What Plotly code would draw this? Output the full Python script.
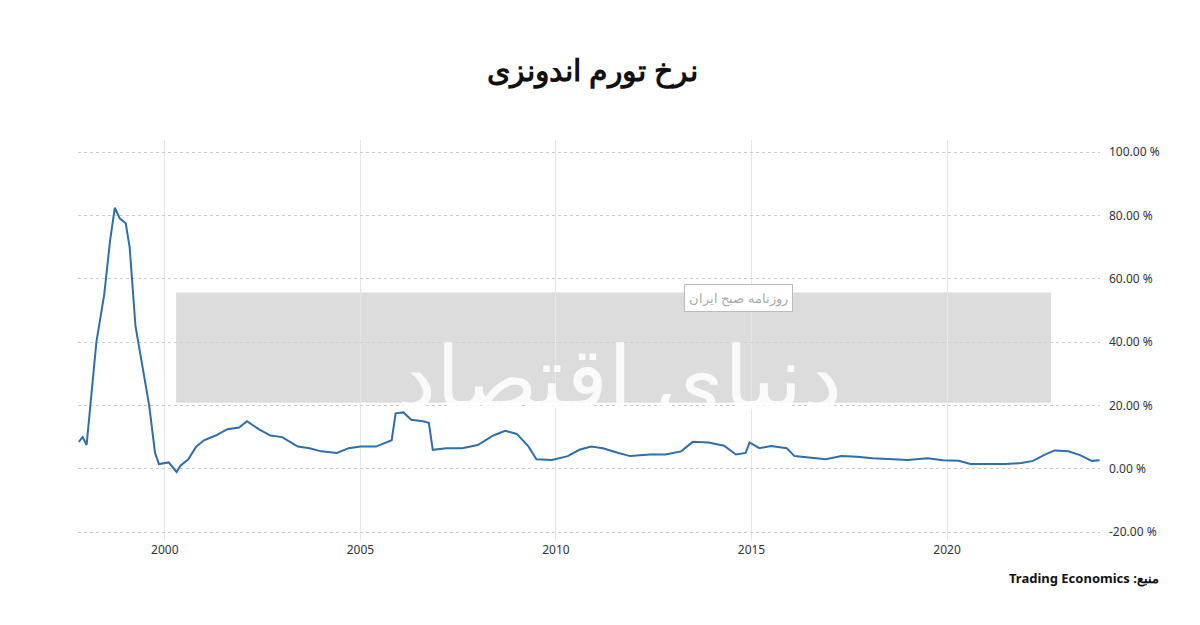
import plotly.graph_objects as go

years = [1997.8, 1997.9, 1998.0, 1998.1, 1998.25, 1998.45, 1998.6, 1998.72, 1998.85, 1999.0,
         1999.1, 1999.25, 1999.45, 1999.6, 1999.75, 1999.85, 2000.1, 2000.3, 2000.4, 2000.6,
         2000.8, 2001.0, 2001.3, 2001.6, 2001.9, 2002.1, 2002.4, 2002.7, 2003.0, 2003.4,
         2003.7, 2004.0, 2004.4, 2004.7, 2005.0, 2005.4, 2005.8, 2005.9, 2006.1, 2006.3,
         2006.6, 2006.75, 2006.85, 2007.2, 2007.6, 2008.0, 2008.4, 2008.7, 2009.0, 2009.3,
         2009.5, 2009.9, 2010.3, 2010.6, 2010.9, 2011.2, 2011.6, 2011.9, 2012.4, 2012.8,
         2013.2, 2013.5, 2013.9, 2014.3, 2014.6, 2014.85, 2014.95, 2015.2, 2015.5, 2015.9,
         2016.1, 2016.5, 2016.9, 2017.3, 2017.7, 2018.1, 2018.6, 2019.0, 2019.5, 2019.9,
         2020.3, 2020.6, 2021.0, 2021.5, 2021.9, 2022.2, 2022.5, 2022.75, 2023.1, 2023.4,
         2023.7, 2023.9]
inflation = [8.5, 10, 7.5, 20, 40, 55, 72, 82.4, 79, 77.5,
             70, 45, 30, 20, 5, 1.5, 2, -1, 1, 3,
             7, 9, 10.5, 12.5, 13, 15, 12.5, 10.5, 10, 7,
             6.5, 5.5, 5, 6.5, 7, 7, 9, 17.5, 17.8, 15.5,
             15, 14.5, 6, 6.5, 6.5, 7.5, 10.5, 12, 11, 7,
             3, 2.8, 4, 6, 7, 6.5, 5, 4, 4.5, 4.5,
             5.5, 8.5, 8.3, 7.3, 4.5, 5, 8.3, 6.5, 7.2, 6.5,
             4, 3.5, 3, 4, 3.8, 3.3, 3, 2.8, 3.3, 2.7,
             2.5, 1.5, 1.5, 1.5, 1.8, 2.5, 4.5, 5.8, 5.5, 4.3,
             2.5, 2.7]

ytick_vals = [-20, 0, 20, 40, 60, 80, 100]
ytick_text = ["-20.00 %", "0.00 %", "20.00 %", "40.00 %", "60.00 %", "80.00 %", "100.00 %"]
xtick_vals = [2000, 2005, 2010, 2015, 2020]

fig = go.Figure(go.Scatter(x=years, y=inflation, mode='lines',
                           line=dict(color='#2f6ea8', width=2)))

# watermark
fig.add_shape(type='rect', xref='paper', yref='paper', x0=0.096, x1=0.952, y0=0.345, y1=0.62,
              fillcolor='#dcdcdc', line_width=0, layer='below')
fig.add_annotation(xref='paper', yref='paper', x=0.53, y=0.415, text='دنیای اقتصاد', showarrow=False,
                   font=dict(size=88, color='rgba(255,255,255,0.85)', family='Noto Sans'))
fig.add_annotation(xref='paper', yref='paper', x=0.70, y=0.605, text='روزنامه صبح ایران', showarrow=False,
                   bgcolor='white', bordercolor='#bbb', borderwidth=1, borderpad=4,
                   font=dict(size=13, color='#aaa', family='Noto Sans'))

fig.add_annotation(xref='paper', yref='paper', x=1.06, y=-0.12, xanchor='right', showarrow=False,
                   text='<b>Trading Economics :منبع</b>', font=dict(size=13, color='#111', family='Noto Sans'))

fig.update_layout(
    width=1200, height=625, plot_bgcolor='white', paper_bgcolor='white',
    margin=dict(l=70, r=108, t=132, b=92), showlegend=False,
    title=dict(text='<b>نرخ تورم اندونزی</b>', x=0.487, y=0.917, xanchor='center',
               font=dict(size=30, color='#111', family='Noto Sans')),
    xaxis=dict(range=[1997.78, 2023.91], tickvals=xtick_vals, showgrid=True, gridcolor='#e6e6e6',
               zeroline=False, tickfont=dict(size=12, color='#333', family='Noto Sans')),
    yaxis=dict(range=[-22.8, 103.8], side='right', tickvals=ytick_vals, ticktext=ytick_text,
               showgrid=True, gridcolor='#cccccc', griddash='dot', zeroline=False,
               tickfont=dict(size=12, color='#333', family='Noto Sans'), ticklabelstandoff=8),
)

fig.write_html("out.html")
